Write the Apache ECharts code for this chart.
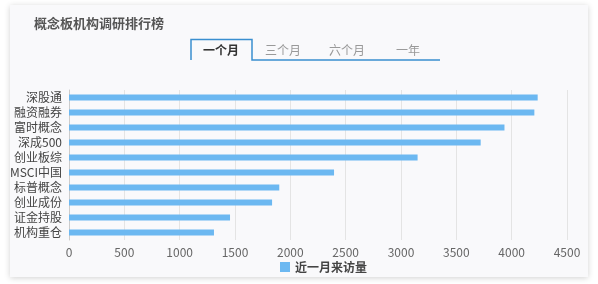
<!DOCTYPE html>
<html>
<head>
<meta charset="utf-8">
<script src="https://cdn.jsdelivr.net/npm/echarts@6/dist/echarts.min.js"></script>
<style>
  html, body { margin: 0; padding: 0; background: #fff; }
  .card {
    position: absolute; left: 10px; top: 5px; width: 578px; height: 272px;
    background: #f9f9fb;
    box-shadow: 0 1px 6px rgba(0, 0, 0, 0.18);
  }
  #chart { position: absolute; left: 0; top: 0; width: 598px; height: 284px; }
</style>
</head>
<body>
<div class="card"></div>
<div id="chart"></div>
<script>
// 概念板块名称（从上到下）
const categories = ['深股通', '融资融券', '富时概念', '深成500', '创业板综', 'MSCI中国', '标普概念', '创业成份', '证金持股', '机构重仓']
// 近一月来访量
const visits = [4235, 4205, 3935, 3720, 3150, 2395, 1900, 1835, 1455, 1310]
// 时间段切换标签
const tabLabels = ['一个月', '三个月', '六个月', '一年']
const tabCenters = [221, 283, 347, 408]

const font = '"Noto Sans CJK SC", "Noto Sans", sans-serif'
const chart = echarts.init(document.getElementById('chart'))

const tabTexts = tabLabels.map((t, i) => ({
  type: 'text',
  x: tabCenters[i],
  y: 50,
  style: {
    text: t,
    align: 'center',
    verticalAlign: 'middle',
    font: (i === 0 ? 'bold ' : '') + '12px ' + font,
    fill: i === 0 ? '#333' : '#999'
  }
}))

chart.setOption({
  backgroundColor: 'transparent',
  textStyle: { fontFamily: font },
  title: {
    text: '概念板机构调研排行榜',
    left: 29,
    top: 12,
    textStyle: { fontSize: 13, fontWeight: 'bold', color: '#555', fontFamily: font }
  },
  graphic: [
    {
      type: 'polyline',
      shape: { points: [[191, 60], [191, 39.5], [252, 39.5], [252, 60], [440, 60]] },
      style: { stroke: '#3a8fd0', lineWidth: 1.5, fill: null }
    },
    ...tabTexts
  ],
  legend: {
    data: ['近一月来访量'],
    left: 275,
    top: 256,
    itemWidth: 10,
    itemHeight: 10,
    itemGap: 4,
    icon: 'rect',
    textStyle: { fontSize: 12, fontWeight: 'bold', color: '#444', fontFamily: font }
  },
  grid: { left: 69, right: 31, top: 90, bottom: 44 },
  xAxis: {
    type: 'value',
    min: 0,
    max: 4500,
    interval: 500,
    axisLine: { show: false },
    axisTick: { show: false },
    axisLabel: { color: '#666', fontSize: 12, margin: 6, formatter: (v) => String(v) },
    splitLine: { lineStyle: { color: '#e4e4e4' } }
  },
  yAxis: {
    type: 'category',
    inverse: true,
    data: categories,
    axisLine: { lineStyle: { color: '#ccc' } },
    axisTick: { lineStyle: { color: '#ccc' }, length: 4 },
    axisLabel: { color: '#444', fontSize: 12, lineHeight: 14, margin: 7, interval: 0, hideOverlap: false }
  },
  series: [
    {
      name: '近一月来访量',
      type: 'bar',
      data: visits,
      barWidth: 6,
      itemStyle: { color: '#6cb8f1' }
    }
  ]
})
</script>
</body>
</html>
